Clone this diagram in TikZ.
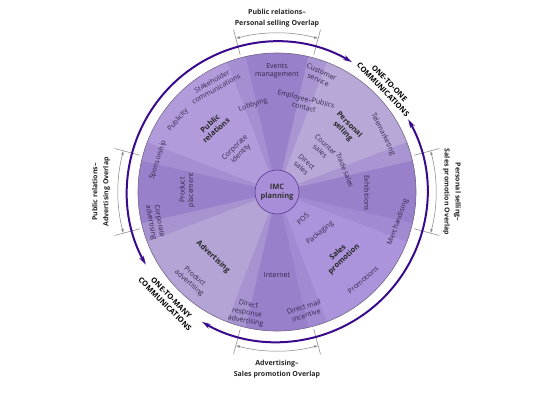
\documentclass[tikz,border=0pt]{standalone}
\usepackage{fontspec}
\setmainfont{Open Sans}
\usetikzlibrary{arrows.meta}

\definecolor{psquad}{HTML}{B8A8D7}
\definecolor{prquad}{HTML}{B29BDB}
\definecolor{adquad}{HTML}{B3A4D5}
\definecolor{spquad}{HTML}{AB94DB}
\definecolor{overlap}{HTML}{9880CA}
\definecolor{discline}{HTML}{75698A}
\definecolor{itemtext}{HTML}{33284A}
\definecolor{commline}{HTML}{3A0A8C}
\definecolor{imcfill}{HTML}{A88ED8}
\definecolor{imcline}{HTML}{5A3A96}

\tikzset{
  item/.style={font=\fontsize{7}{8.5}\selectfont, text=itemtext, align=center, inner sep=1pt},
  head/.style={font=\fontsize{7.5}{9}\selectfont\bfseries, text=black!85, align=center, inner sep=1pt},
  comm/.style={font=\fontsize{7.5}{9}\selectfont\bfseries, align=center, inner sep=1pt},
  olabel/.style={font=\fontsize{7}{11}\selectfont\bfseries, text=black!85, align=center},
  tick/.style={gray, line width=.5pt},
  span/.style={gray, line width=.5pt, {Latex[length=4pt,width=2.5pt]}-{Latex[length=4pt,width=2.5pt]}},
  ring/.style={commline, line width=2pt, {Stealth[length=9pt,width=5pt]}-{Stealth[length=9pt,width=5pt]}}
}

\begin{document}
\begin{tikzpicture}[x=1pt,y=1pt]
\useasboundingbox (-277,-221) rectangle (263,192);

% quadrants
\fill[psquad] (0,0) -- (0:139) arc[start angle=0, end angle=90, radius=139] -- cycle;
\fill[prquad] (0,0) -- (90:139) arc[start angle=90, end angle=180, radius=139] -- cycle;
\fill[adquad] (0,0) -- (180:139) arc[start angle=180, end angle=270, radius=139] -- cycle;
\fill[spquad] (0,0) -- (270:139) arc[start angle=270, end angle=360, radius=139] -- cycle;

% overlap wedges
\foreach \a in {0,90,180,270} {
  \fill[overlap, opacity=.45] (0,0) -- (\a-21:139) arc[start angle=\a-21, end angle=\a+21, radius=139] -- cycle;
  \fill[overlap] (0,0) -- (\a-13:139) arc[start angle=\a-13, end angle=\a+13, radius=139] -- cycle;
}
\draw[discline, line width=.6pt] (0,0) circle (139);

% overlap brackets
\foreach \a in {0,90,180,270} {
  \draw[tick] (\a-15:142) -- (\a-15:168);
  \draw[tick] (\a+15:142) -- (\a+15:168);
  \draw[span] (\a-15:159) arc[start angle=\a-15, end angle=\a+15, radius=159];
}

% communication arcs
\draw[ring] (60:150) arc[start angle=60, end angle=209, radius=150];
\draw[ring] (29:150) arc[start angle=29, end angle=-120, radius=150];

\node[comm, rotate=-46] (one) at (44:152) {ONE-TO-ONE\\COMMUNICATIONS};
\node[comm, rotate=-45] (many) at (225:154) {ONE-TO-MANY\\COMMUNICATIONS};

% overlap labels
\node[olabel] (prps) at (0,174) {Public relations--\\Personal selling Overlap};
\node[olabel] (adsp) at (0,-177) {Advertising--\\Sales promotion Overlap};
\node[olabel, rotate=90] (prad) at (-176,0) {Public relations--\\Advertising Overlap};
\node[olabel, rotate=-90] (pssp) at (175,0) {Personal selling--\\Sales promotion Overlap};

% centre
\node[circle, draw=imcline, line width=.6pt, fill=imcfill, minimum size=44, inner sep=0pt,
  font=\fontsize{7.5}{9}\selectfont\bfseries, text=black!80, align=center] (imc) at (0,0) {IMC\\planning};

% public relations
\node[head, rotate=42] (pr) at (-64,65) {Public\\relations};
\node[item, rotate=29] (stake) at (-63,107) {Stakeholder\\communications};
\node[item, rotate=18] (lobby) at (-24,87) {Lobbying};
\node[item, rotate=50] (publ) at (-99,72) {Publicity};
\node[item, rotate=45] (corpid) at (-39,41) {Corporate\\identity};
\node[item, rotate=72] (spons) at (-119,32) {Sponsorship};
\node[item] (events) at (0,121) {Events\\management};

% personal selling
\node[head, rotate=-45] (ps) at (69,64) {Personal\\selling};
\node[item, rotate=-24] (cust) at (43,116) {Customer\\service};
\node[item, rotate=-14] (empl) at (28,89) {Employee--Publics\\contact};
\node[item, rotate=-64] (tele) at (106,58) {Telemarketing};
\node[item, rotate=-42] (counter) at (46,44) {Counter\\sales};
\node[item, rotate=-42] (dsales) at (27,27) {Direct\\sales};
\node[item, rotate=-68] (trade) at (68,22) {Trade sales};
\node[item, rotate=-90] (exhib) at (90,-1) {Exhibitions};

% sales promotion
\node[head, rotate=43] (sp) at (64,-64) {Sales\\promotion};
\node[item, rotate=70] (merch) at (121,-30) {Merchandising};
\node[item, rotate=41] (promo) at (86,-88) {Promotions};
\node[item, rotate=40] (pack) at (43,-41) {Packaging};
\node[item, rotate=45] (pos) at (26,-27) {POS};
\node[item, rotate=18] (dmail) at (28,-119) {Direct mail\\incentive};
\node[item] (inet) at (0,-83) {Internet};

% advertising
\node[head, rotate=-43] (ad) at (-64,-65) {Advertising};
\node[item, rotate=-41] (prodad) at (-85,-88) {Product\\advertising};
\node[item, rotate=-10] (dresp) at (-30,-121) {Direct\\response\\advertising};
\node[item, rotate=-80] (corpad) at (-122,-30) {Corporate\\advertising};
\node[item, rotate=90] (place) at (-90,2) {Product\\placement};

\end{tikzpicture}
\end{document}
